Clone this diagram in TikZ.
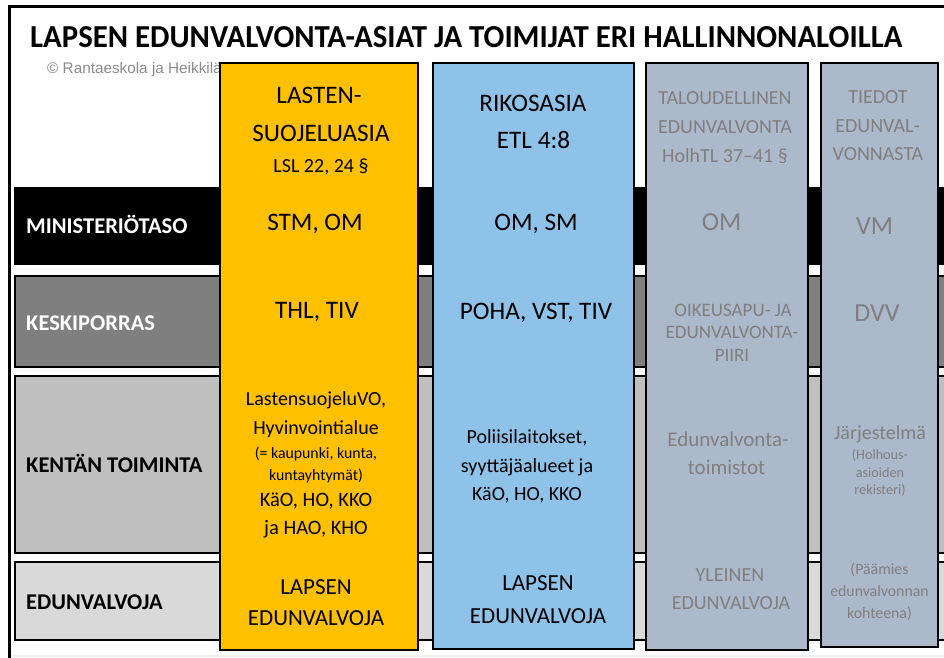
\documentclass[tikz,border=0pt]{standalone}
\usepackage{fontspec}
\setmainfont{Carlito}
\newfontfamily\arialf{Liberation Sans}
\usepackage{graphicx}
\definecolor{colY}{HTML}{FFC000}
\definecolor{colB}{HTML}{8EC2E8}
\definecolor{colG}{HTML}{ACB9CA}
\definecolor{txtG}{HTML}{7F7F7F}
\definecolor{cpG}{HTML}{8C8C8C}
\definecolor{bandA}{HTML}{000000}
\definecolor{bandB}{HTML}{7F7F7F}
\definecolor{bandC}{HTML}{BFBFBF}
\definecolor{bandD}{HTML}{D9D9D9}
\tikzset{
  band/.style={draw=black, line width=2pt},
  colbox/.style={draw=black, line width=2.2pt},
  ltxt/.style={anchor=base, inner sep=0pt},
  rowlab/.style={anchor=base west, inner sep=0pt, font=\bfseries\fontsize{22.5}{22.5}\selectfont},
}
% #1 name, #2 x, #3 visual centre y, #4 size, #5 options, #6 text
\newcommand\linetxt[6]{\node[ltxt, font=\fontsize{#4}{#4}\selectfont, #5] (#1) at (#2,{#3+0.322*#4}) {#6};}
\begin{document}
\begin{tikzpicture}[x=1pt,y=-1pt]
\useasboundingbox (0,0) rectangle (944,657);
\clip (0,0) rectangle (944,657);
\fill[white] (0,0) rectangle (944,657);
\fill[black!6] (10,655) rectangle (944,657);
% outer frame
\draw[line width=3pt] (9,700) -- (9,6) -- (1000,6);
% copyright and title
\node[anchor=base west, inner sep=0pt, font=\arialf\fontsize{15.3}{15.3}\selectfont, text=cpG] (copy) at (47,73) {© Rantaeskola ja Heikkilä};
\node[anchor=base west, inner sep=0pt] (title) at (30,47.5) {\resizebox{872pt}{21pt}{\bfseries LAPSEN EDUNVALVONTA-ASIAT JA TOIMIJAT ERI HALLINNONALOILLA}};
% row bands
\draw[band, fill=bandA] (15,188) rectangle (980,264);
\draw[band, fill=bandB] (15,276) rectangle (980,367);
\draw[band, fill=bandC] (15,376) rectangle (980,553);
\draw[band, fill=bandD] (15,562) rectangle (980,640);
\node[rowlab, text=white] (r1) at (26,{226+7.2}) {MINISTERIÖTASO};
\node[rowlab, text=white] (r2) at (26,{323+7.2}) {KESKIPORRAS};
\node[rowlab, text=black] (r3) at (26,{465+7.2}) {KENTÄN TOIMINTA};
\node[rowlab, text=black] (r4) at (26,{602+7.2}) {EDUNVALVOJA};
% columns
\draw[colbox, fill=colY] (220,63) rectangle (418,650);
\draw[colbox, fill=colB] (433,63) rectangle (634,649);
\draw[colbox, fill=colG] (646,63) rectangle (808,650);
\draw[colbox, fill=colG] (821,63) rectangle (938,647);
% yellow column
\linetxt{y1}{319}{95}{25.2}{}{LASTEN-}
\linetxt{y2}{321}{133}{25.2}{}{SUOJELUASIA}
\linetxt{y3}{321}{166}{20}{}{LSL 22, 24 §}
\linetxt{y4}{315}{222}{25.2}{}{STM, OM}
\linetxt{y5}{317}{310}{25.2}{}{THL, TIV}
\linetxt{y6}{316}{399}{20}{}{LastensuojeluVO,}
\linetxt{y7}{316}{428}{20}{}{Hyvinvointialue}
\linetxt{y8}{316}{453}{15.8}{}{(= kaupunki, kunta,}
\linetxt{y9}{316}{475}{15.8}{}{kuntayhtymät)}
\linetxt{y10}{316}{500}{20.5}{}{KäO, HO, KKO}
\linetxt{y11}{316}{528}{20.5}{}{ja HAO, KHO}
\linetxt{y12}{316}{587}{23}{}{LAPSEN}
\linetxt{y13}{316}{618}{23}{}{EDUNVALVOJA}
% blue column
\linetxt{b1}{533}{103}{25.2}{}{RIKOSASIA}
\linetxt{b2}{533.5}{140}{25.2}{}{ETL 4:8}
\linetxt{b3}{536}{222}{25.2}{}{OM, SM}
\linetxt{b4}{536}{311}{25.2}{}{POHA, VST, TIV}
\linetxt{b5}{527}{437}{20}{}{Poliisilaitokset,}
\linetxt{b6}{527}{466}{20}{}{syyttäjäalueet ja}
\linetxt{b7}{527}{494}{20}{}{KäO, HO, KKO}
\linetxt{b8}{538}{583}{23}{}{LAPSEN}
\linetxt{b9}{538}{616}{23}{}{EDUNVALVOJA}
% grey column 1
\linetxt{g1}{725}{98}{20}{text=txtG}{TALOUDELLINEN}
\linetxt{g2}{725}{127}{20}{text=txtG}{EDUNVALVONTA}
\linetxt{g3}{725}{156}{20}{text=txtG}{HolhTL 37–41 §}
\linetxt{g4}{721.5}{222}{26}{text=txtG}{OM}
\linetxt{g5}{733}{310}{19}{text=txtG}{OIKEUSAPU- JA}
\linetxt{g6}{732}{332}{19}{text=txtG}{EDUNVALVONTA-}
\linetxt{g7}{732}{355}{19}{text=txtG}{PIIRI}
\linetxt{g8}{728}{440}{21}{text=txtG}{Edunvalvonta-}
\linetxt{g9}{726.5}{468}{21}{text=txtG}{toimistot}
\linetxt{g10}{730}{575}{20}{text=txtG}{YLEINEN}
\linetxt{g11}{731}{603}{20}{text=txtG}{EDUNVALVOJA}
% grey column 2
\linetxt{h1}{878}{97}{20}{text=txtG}{TIEDOT}
\linetxt{h2}{877.5}{126}{20}{text=txtG}{EDUNVAL-}
\linetxt{h3}{878}{154}{20}{text=txtG}{VONNASTA}
\linetxt{h4}{874.5}{226}{26}{text=txtG}{VM}
\linetxt{h5}{877}{313}{26}{text=txtG}{DVV}
\linetxt{h6}{880}{433}{20}{text=txtG}{Järjestelmä}
\linetxt{h7}{880}{455}{14.2}{text=txtG}{(Holhous-}
\linetxt{h8}{880}{473}{14.2}{text=txtG}{asioiden}
\linetxt{h9}{880}{490}{14.2}{text=txtG}{rekisteri)}
\linetxt{h10}{879.5}{569}{15.8}{text=txtG}{(Päämies}
\linetxt{h11}{879.5}{591}{15.8}{text=txtG}{edunvalvonnan}
\linetxt{h12}{879.5}{613}{15.8}{text=txtG}{kohteena)}
\end{tikzpicture}
\end{document}
